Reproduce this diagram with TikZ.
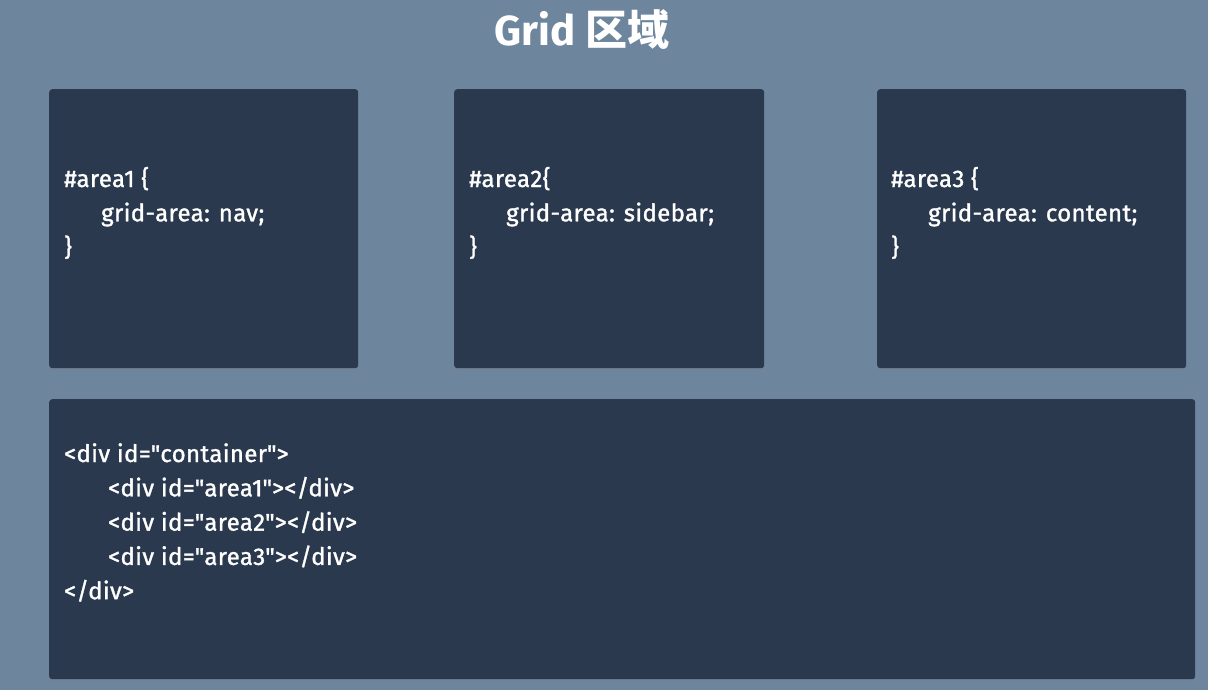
\documentclass[tikz,border=0pt]{standalone}
\usepackage{fontspec}
\setmainfont{Fira Sans}
\newfontfamily\codefont[FakeBold=1.3,LetterSpace=1.5]{Fira Sans}
\newfontfamily\cjk{Noto Sans CJK SC}
\usetikzlibrary{shadows}

\definecolor{slateback}{RGB}{110,133,158}
\definecolor{navybox}{RGB}{42,57,78}

\begin{document}
\begin{tikzpicture}[x=1pt,y=-1pt]
        % \tikzstyle{every path}=[very thick]

        \edef\linesep{34.3}
        \tikzstyle{codebox}=[fill=navybox,draw=none,rounded corners=3pt,anchor=north west,
            drop shadow={shadow xshift=0pt,shadow yshift=-2pt,opacity=0.25}]
        \tikzstyle{codeline}=[anchor=base west,inner sep=0pt,text=white,
            font=\fontsize{24}{28}\codefont]

        %% Background
        \fill [slateback] (0,0) rectangle (1208,690);

        %% Title
        \node [anchor=base,inner sep=0pt,text=white,font=\fontsize{42}{50}\selectfont\bfseries]
            (title) at (582,46) {Grid {\cjk\bfseries 区域}};

        %% Area boxes
        \node [codebox,minimum width=309,minimum height=279] (navbox) at (49,89) {};
        \node [codebox,minimum width=310,minimum height=279] (sidebox) at (454,89) {};
        \node [codebox,minimum width=309,minimum height=279] (contentbox) at (877,89) {};
        \node [codebox,minimum width=1146,minimum height=280] (htmlbox) at (49,399) {};

        \begin{scope}[shift={(64,187)}]
            \node [codeline] (nav1) at (0,0) {\#area1 \{};
            \node [codeline] (nav2) at (37,\linesep) {grid-area: nav;};
            \node [codeline] (nav3) at (0,2*\linesep) {\}};
        \end{scope}

        \begin{scope}[shift={(469,187)}]
            \node [codeline] (side1) at (0,0) {\#area2\{};
            \node [codeline] (side2) at (37,\linesep) {grid-area: sidebar;};
            \node [codeline] (side3) at (0,2*\linesep) {\}};
        \end{scope}

        \begin{scope}[shift={(891,187)}]
            \node [codeline] (content1) at (0,0) {\#area3 \{};
            \node [codeline] (content2) at (37,\linesep) {grid-area: content;};
            \node [codeline] (content3) at (0,2*\linesep) {\}};
        \end{scope}

        %% HTML markup
        \begin{scope}[shift={(64,462)}]
            \node [codeline] (html1) at (0,0) {<div id=\textquotedbl container\textquotedbl>};
            \node [codeline] (html2) at (44,\linesep) {<div id=\textquotedbl area1\textquotedbl></div>};
            \node [codeline] (html3) at (44,2*\linesep) {<div id=\textquotedbl area2\textquotedbl></div>};
            \node [codeline] (html4) at (44,3*\linesep) {<div id=\textquotedbl area3\textquotedbl></div>};
            \node [codeline] (html5) at (0,4*\linesep) {</div>};
            % \node [codeline] (html6) at (0,5*\linesep) {};
        \end{scope}

    \end{tikzpicture}
\end{document}
